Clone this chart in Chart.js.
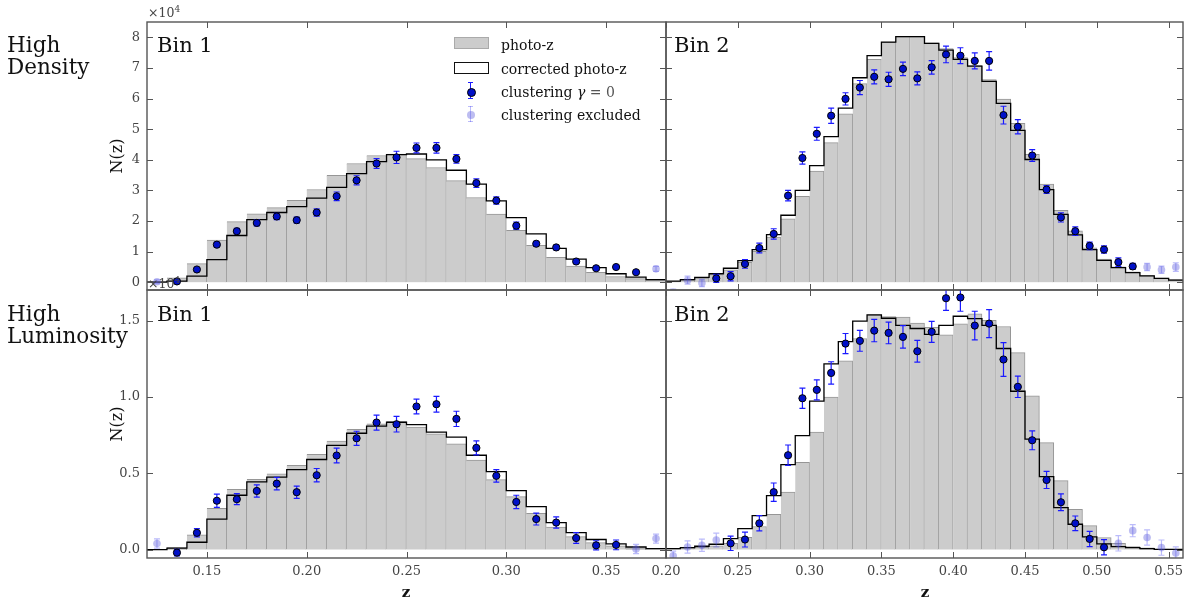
<!DOCTYPE html>
<html>
<head>
    <title>N(z) by redshift bin</title>
    <script src="https://cdn.jsdelivr.net/npm/chart.js"></script>
    <style>
        body { margin: 0; width: 1188px; height: 603px; background: #fff; position: relative; overflow: hidden;
               font-family: "DejaVu Serif", serif; color: #111; }
        canvas.panel { position: absolute; left: 0; top: 0; }
        .txt { position: absolute; white-space: nowrap; line-height: 1; }
        .side { font-size: 21.5px; line-height: 21.5px; left: 7px; }
        .bin { font-size: 21px; }
        .ylab { font-size: 16px; transform: translate(-50%, -50%) rotate(-90deg); }
        .xlab { font-size: 15px; font-weight: bold; transform: translateX(-50%); }
        .mult { font-size: 12.5px; color: #444; }
        .mult sup { font-size: 9px; vertical-align: 5px; }
        .leg { font-size: 14px; left: 501px; }
        .sym { position: absolute; }
    </style>
</head>
<body>
    <canvas class="panel" id="hdBin1" width="1188" height="603"></canvas>
    <canvas class="panel" id="hdBin2" width="1188" height="603"></canvas>
    <canvas class="panel" id="hlBin1" width="1188" height="603"></canvas>
    <canvas class="panel" id="hlBin2" width="1188" height="603"></canvas>

    <div class="txt side" style="top:34px">High<br>Density</div>
    <div class="txt side" style="top:303px">High<br>Luminosity</div>
    <div class="txt bin" style="left:157px; top:35px">Bin 1</div>
    <div class="txt bin" style="left:674px; top:35px">Bin 2</div>
    <div class="txt bin" style="left:157px; top:304px">Bin 1</div>
    <div class="txt bin" style="left:674px; top:304px">Bin 2</div>
    <div class="txt ylab" style="left:117px; top:156px">N(z)</div>
    <div class="txt ylab" style="left:117px; top:424px">N(z)</div>
    <div class="txt xlab" style="left:406px; top:585px">z</div>
    <div class="txt xlab" style="left:925px; top:585px">z</div>
    <div class="txt mult" style="left:148px; top:5px">×10<sup>4</sup></div>
    <div class="txt mult" style="left:148px; top:276px">×10<sup>4</sup></div>

    <!-- legend -->
    <div class="sym" style="left:454px; top:37px; width:33px; height:10px; background:#ccc; border:1px solid #aaa"></div>
    <div class="sym" style="left:454px; top:62px; width:33px; height:10px; background:#fff; border:1px solid #111"></div>
    <div class="sym" style="left:470px; top:82px; width:1px; height:17px; background:#1a1aff"></div>
    <div class="sym" style="left:468px; top:82px; width:5px; height:1px; background:#1a1aff"></div>
    <div class="sym" style="left:468px; top:98px; width:5px; height:1px; background:#1a1aff"></div>
    <div class="sym" style="left:467px; top:88px; width:7px; height:7px; border-radius:50%; background:#0010c8; border:1px solid #000"></div>
    <div class="sym" style="left:470px; top:106px; width:1px; height:16px; background:rgba(60,60,240,0.35)"></div>
    <div class="sym" style="left:468px; top:106px; width:5px; height:1px; background:rgba(60,60,240,0.35)"></div>
    <div class="sym" style="left:468px; top:121px; width:5px; height:1px; background:rgba(60,60,240,0.35)"></div>
    <div class="sym" style="left:467px; top:111px; width:8px; height:8px; border-radius:50%; background:rgba(90,90,220,0.4)"></div>
    <div class="txt leg" style="top:38px">photo-z</div>
    <div class="txt leg" style="top:61.5px">corrected photo-z</div>
    <div class="txt leg" style="top:85px">clustering <i>γ</i> <span style="color:#555">= 0</span></div>
    <div class="txt leg" style="top:108px">clustering excluded</div>

    <script>
        // bin centres
        const zLeft = [0.125, 0.135, 0.145, 0.155, 0.165, 0.175, 0.185, 0.195, 0.205, 0.215, 0.225, 0.235, 0.245,
                       0.255, 0.265, 0.275, 0.285, 0.295, 0.305, 0.315, 0.325, 0.335, 0.345, 0.355, 0.365, 0.375];
        const zRight = [0.205, 0.215, 0.225, 0.235, 0.245, 0.255, 0.265, 0.275, 0.285, 0.295, 0.305, 0.315,
                        0.325, 0.335, 0.345, 0.355, 0.365, 0.375, 0.385, 0.395, 0.405, 0.415, 0.425, 0.435,
                        0.445, 0.455, 0.465, 0.475, 0.485, 0.495, 0.505, 0.515, 0.525, 0.535, 0.545, 0.555];

        const xTicksLeft = [0.15, 0.20, 0.25, 0.30, 0.35];
        const xTicksRight = [0.20, 0.25, 0.30, 0.35, 0.40, 0.45, 0.50, 0.55];
        const yTicksDensity = [0, 1, 2, 3, 4, 5, 6, 7, 8];
        const yTicksLum = [0, 0.5, 1.0, 1.5];

        // High Density, Bin 1 (units of 1e4)
        const hdBin1Photo = [0.03, 0.15, 0.61, 1.38, 1.98, 2.24, 2.44, 2.68, 3.03, 3.49, 3.88, 4.14, 4.19,
                             4.04, 3.75, 3.32, 2.77, 2.23, 1.70, 1.21, 0.82, 0.53, 0.33, 0.19, 0.12, 0.07];
        const hdBin1Corrected = [0.01, 0.04, 0.20, 0.74, 1.53, 2.05, 2.28, 2.47, 2.75, 3.10, 3.55, 3.94, 4.17,
                                 4.19, 4.00, 3.66, 3.21, 2.66, 2.11, 1.58, 1.11, 0.76, 0.48, 0.28, 0.17, 0.09];
        const hdBin1ClusterZ = [0.135, 0.145, 0.155, 0.165, 0.175, 0.185, 0.195, 0.205, 0.215, 0.225, 0.235, 0.245,
                                0.255, 0.265, 0.275, 0.285, 0.295, 0.305, 0.315, 0.325, 0.335, 0.345, 0.355, 0.365];
        const hdBin1Cluster = [0.03, 0.42, 1.23, 1.67, 1.94, 2.15, 2.03, 2.28, 2.81, 3.33, 3.88, 4.08,
                               4.39, 4.39, 4.03, 3.24, 2.67, 1.85, 1.26, 1.14, 0.68, 0.46, 0.50, 0.33];
        const hdBin1ClusterErr = [0.04, 0.06, 0.08, 0.09, 0.10, 0.10, 0.10, 0.12, 0.14, 0.15, 0.16, 0.20,
                                  0.16, 0.17, 0.14, 0.14, 0.12, 0.12, 0.08, 0.07, 0.06, 0.05, 0.05, 0.05];
        const hdBin1ExclZ = [0.125, 0.375];
        const hdBin1Excl = [0.02, 0.44];
        const hdBin1ExclErr = [0.06, 0.08];

        // High Density, Bin 2
        const hdBin2Photo = [0.03, 0.07, 0.14, 0.25, 0.41, 0.65, 1.01, 1.48, 2.07, 2.81, 3.63, 4.56,
                             5.50, 6.49, 7.28, 7.84, 8.02, 8.02, 7.82, 7.63, 7.34, 7.08, 6.62, 5.98,
                             5.19, 4.18, 3.21, 2.35, 1.68, 1.13, 0.76, 0.51, 0.34, 0.22, 0.14, 0.09];
        const hdBin2Corrected = [0.04, 0.09, 0.16, 0.28, 0.46, 0.71, 1.07, 1.56, 2.19, 3.00, 3.81, 4.76,
                                 5.69, 6.68, 7.40, 7.84, 8.02, 8.02, 7.80, 7.58, 7.28, 7.06, 6.56, 5.84,
                                 4.96, 4.01, 3.03, 2.22, 1.55, 1.07, 0.72, 0.48, 0.32, 0.21, 0.13, 0.07];
        const hdBin2ClusterZ = [0.235, 0.245, 0.255, 0.265, 0.275, 0.285, 0.295, 0.305, 0.315, 0.325,
                                0.335, 0.345, 0.355, 0.365, 0.375, 0.385, 0.395, 0.405, 0.415, 0.425,
                                0.435, 0.445, 0.455, 0.465, 0.475, 0.485, 0.495, 0.505, 0.515, 0.525];
        const hdBin2Cluster = [0.13, 0.20, 0.60, 1.12, 1.58, 2.83, 4.06, 4.85, 5.44, 5.99,
                               6.36, 6.71, 6.63, 6.97, 6.66, 7.02, 7.44, 7.40, 7.23, 7.23,
                               5.46, 5.08, 4.14, 3.03, 2.12, 1.67, 1.19, 1.07, 0.66, 0.52];
        const hdBin2ClusterErr = [0.13, 0.15, 0.14, 0.16, 0.17, 0.17, 0.20, 0.21, 0.25, 0.20,
                                  0.23, 0.23, 0.23, 0.22, 0.21, 0.22, 0.27, 0.26, 0.26, 0.30,
                                  0.29, 0.23, 0.19, 0.13, 0.15, 0.14, 0.12, 0.12, 0.14, 0.10];
        const hdBin2ExclZ = [0.205, 0.215, 0.225, 0.535, 0.545, 0.555];
        const hdBin2Excl = [-0.33, 0.07, -0.02, 0.50, 0.41, 0.50];
        const hdBin2ExclErr = [0.11, 0.13, 0.12, 0.12, 0.12, 0.14];

        // High Luminosity, Bin 1
        const hlBin1Photo = [0.0, 0.013, 0.096, 0.27, 0.395, 0.46, 0.496, 0.552, 0.624, 0.71, 0.788, 0.823, 0.838,
                             0.803, 0.758, 0.692, 0.587, 0.458, 0.347, 0.238, 0.148, 0.085, 0.046, 0.024, 0.011, 0.004];
        const hlBin1Corrected = [0.0, 0.01, 0.048, 0.20, 0.356, 0.443, 0.474, 0.524, 0.59, 0.683, 0.762, 0.808, 0.834,
                                 0.819, 0.769, 0.736, 0.618, 0.511, 0.386, 0.282, 0.177, 0.111, 0.066, 0.037, 0.017, 0.007];
        const hlBin1ClusterZ = [0.135, 0.145, 0.155, 0.165, 0.175, 0.185, 0.195, 0.205, 0.215, 0.225, 0.235, 0.245,
                                0.255, 0.265, 0.275, 0.285, 0.295, 0.305, 0.315, 0.325, 0.335, 0.345, 0.355];
        const hlBin1Cluster = [-0.02, 0.11, 0.32, 0.33, 0.384, 0.432, 0.376, 0.487, 0.616, 0.729, 0.832, 0.821,
                               0.937, 0.952, 0.856, 0.666, 0.483, 0.312, 0.20, 0.177, 0.076, 0.028, 0.031];
        const hlBin1ClusterErr = [0.022, 0.027, 0.043, 0.036, 0.04, 0.041, 0.04, 0.044, 0.048, 0.046, 0.049, 0.051,
                                  0.048, 0.052, 0.05, 0.046, 0.041, 0.044, 0.039, 0.037, 0.035, 0.03, 0.032];
        const hlBin1ExclZ = [0.125, 0.365, 0.375];
        const hlBin1Excl = [0.04, 0.004, 0.072];
        const hlBin1ExclErr = [0.03, 0.03, 0.03];

        // High Luminosity, Bin 2
        const hlBin2Photo = [0.004, 0.009, 0.015, 0.024, 0.041, 0.081, 0.151, 0.231, 0.376, 0.572, 0.769, 0.998,
                             1.236, 1.382, 1.537, 1.526, 1.522, 1.483, 1.456, 1.406, 1.478, 1.544, 1.502, 1.461,
                             1.290, 1.007, 0.701, 0.452, 0.264, 0.157, 0.079, 0.041, 0.020, 0.011, 0.004, 0.002];
        const hlBin2Corrected = [0.007, 0.013, 0.022, 0.035, 0.072, 0.138, 0.223, 0.354, 0.557, 0.747, 0.972, 1.216,
                                 1.362, 1.496, 1.537, 1.515, 1.469, 1.448, 1.41, 1.469, 1.528, 1.513, 1.469, 1.317,
                                 1.037, 0.723, 0.478, 0.275, 0.166, 0.083, 0.037, 0.020, 0.013, 0.007, 0.002, 0.002];
        const hlBin2ClusterZ = [0.245, 0.255, 0.265, 0.275, 0.285, 0.295, 0.305, 0.315, 0.325, 0.335,
                                0.345, 0.355, 0.365, 0.375, 0.385, 0.395, 0.405, 0.415, 0.425, 0.435,
                                0.445, 0.455, 0.465, 0.475, 0.485, 0.495, 0.505];
        const hlBin2Cluster = [0.041, 0.066, 0.172, 0.376, 0.618, 0.991, 1.046, 1.157, 1.349, 1.367,
                               1.434, 1.419, 1.393, 1.299, 1.426, 1.646, 1.651, 1.467, 1.480, 1.245,
                               1.066, 0.716, 0.456, 0.310, 0.172, 0.070, 0.015];
        const hlBin2ClusterErr = [0.047, 0.049, 0.05, 0.06, 0.067, 0.066, 0.066, 0.073, 0.066, 0.068,
                                  0.073, 0.071, 0.074, 0.071, 0.069, 0.08, 0.09, 0.094, 0.092, 0.11,
                                  0.07, 0.062, 0.056, 0.055, 0.048, 0.05, 0.05];
        const hlBin2ExclZ = [0.205, 0.215, 0.225, 0.235, 0.515, 0.525, 0.535, 0.545, 0.555];
        const hlBin2Excl = [-0.04, 0.017, 0.028, 0.063, 0.041, 0.124, 0.079, 0.013, -0.022];
        const hlBin2ExclErr = [0.03, 0.04, 0.04, 0.045, 0.05, 0.04, 0.05, 0.05, 0.04];

        const FONT = '"DejaVu Serif", serif';
        const Y_AXIS_W = 40;   // fixed room for y tick labels
        const X_AXIS_H = 28;   // fixed room for x tick labels

        // error bars drawn under each point dataset that carries an `errors` array
        const errorBars = {
            id: 'errorBars',
            beforeDatasetDraw(chart, args) {
                const ds = chart.data.datasets[args.index];
                if (!ds.errors) return;
                const {ctx, chartArea: a, scales: {x, y}} = chart;
                ctx.save();
                ctx.beginPath();
                ctx.rect(a.left, a.top, a.width, a.height);
                ctx.clip();
                ctx.strokeStyle = ds.errColor;
                ctx.lineWidth = 1.2;
                ds.data.forEach((p, i) => {
                    const px = x.getPixelForValue(p.x);
                    const lo = y.getPixelForValue(p.y - ds.errors[i]);
                    const hi = y.getPixelForValue(p.y + ds.errors[i]);
                    ctx.beginPath();
                    ctx.moveTo(px, lo); ctx.lineTo(px, hi);
                    ctx.moveTo(px - 3, lo); ctx.lineTo(px + 3, lo);
                    ctx.moveTo(px - 3, hi); ctx.lineTo(px + 3, hi);
                    ctx.stroke();
                });
                ctx.restore();
            }
        };

        // box frame plus inward ticks on all four sides
        const frame = {
            id: 'frame',
            afterDatasetsDraw(chart) {
                const {ctx, chartArea: a, scales: {x, y}} = chart;
                ctx.save();
                ctx.strokeStyle = '#555';
                ctx.lineWidth = 1;
                ctx.beginPath();
                x.ticks.forEach(t => {
                    const px = Math.round(x.getPixelForValue(t.value)) + 0.5;
                    ctx.moveTo(px, a.bottom); ctx.lineTo(px, a.bottom - 6);
                    ctx.moveTo(px, a.top); ctx.lineTo(px, a.top + 6);
                });
                y.ticks.forEach(t => {
                    const py = Math.round(y.getPixelForValue(t.value)) + 0.5;
                    ctx.moveTo(a.left, py); ctx.lineTo(a.left + 6, py);
                    ctx.moveTo(a.right, py); ctx.lineTo(a.right - 6, py);
                });
                ctx.stroke();
                ctx.lineWidth = 1.4;
                ctx.strokeRect(a.left, a.top, a.width, a.height);
                ctx.restore();
            }
        };

        function fixSize(s, dim, size) {
            s[dim] = size;
            s.paddingTop = 0; s.paddingBottom = 0; s.paddingLeft = 0; s.paddingRight = 0;
        }

        function makePanel(id, p) {
            const line = [{x: p.xRange[0], y: p.corrected[0]}]
                .concat(p.bins.map((z, i) => ({x: z, y: p.corrected[i]})))
                .concat([{x: p.xRange[1], y: p.corrected[p.corrected.length - 1]}]);

            new Chart(document.getElementById(id), {
                type: 'bar',
                data: {
                    datasets: [
                        {
                            type: 'scatter',
                            label: 'clustering γ = 0',
                            data: p.clusterZ.map((z, i) => ({x: z, y: p.cluster[i]})),
                            errors: p.clusterErr,
                            errColor: '#1a1aff',
                            backgroundColor: '#0010c8',
                            borderColor: '#000',
                            borderWidth: 1,
                            pointRadius: 3.6,
                            order: 0
                        },
                        {
                            type: 'scatter',
                            label: 'clustering excluded',
                            data: p.exclZ.map((z, i) => ({x: z, y: p.excl[i]})),
                            errors: p.exclErr,
                            errColor: 'rgba(60,60,240,0.35)',
                            backgroundColor: 'rgba(90,90,220,0.4)',
                            borderColor: 'rgba(0,0,0,0)',
                            borderWidth: 0,
                            pointRadius: 3.8,
                            clip: 0,
                            order: 1
                        },
                        {
                            type: 'line',
                            label: 'corrected photo-z',
                            data: line,
                            stepped: 'middle',
                            borderColor: '#000',
                            borderWidth: 1.3,
                            pointRadius: 0,
                            fill: false,
                            order: 2
                        },
                        {
                            type: 'bar',
                            label: 'photo-z',
                            data: p.bins.map((z, i) => ({x: z, y: p.photo[i]})),
                            backgroundColor: '#cccccc',
                            borderColor: 'rgba(80,80,80,0.6)',
                            borderWidth: {top: 1, right: 1, left: 0, bottom: 0},
                            borderSkipped: false,
                            barPercentage: 1,
                            categoryPercentage: 1,
                            order: 3
                        }
                    ]
                },
                options: {
                    responsive: false,
                    animation: false,
                    events: [],
                    layout: {padding: {
                        left: p.box[0] - Y_AXIS_W,
                        top: p.box[1],
                        right: 1188 - p.box[2],
                        bottom: 603 - p.box[3] - X_AXIS_H
                    }},
                    plugins: {legend: {display: false}, tooltip: {enabled: false}},
                    scales: {
                        x: {
                            type: 'linear',
                            min: p.xRange[0],
                            max: p.xRange[1],
                            offset: false,
                            afterBuildTicks: s => { s.ticks = p.xTicks.map(v => ({value: v})); },
                            afterFit: s => fixSize(s, 'height', X_AXIS_H),
                            grid: {display: false, drawTicks: false, offset: false},
                            border: {display: false},
                            ticks: {
                                display: p.showX,
                                autoSkip: false,
                                maxRotation: 0,
                                padding: 6,
                                color: '#444',
                                font: {family: FONT, size: 13},
                                callback: v => v.toFixed(2)
                            }
                        },
                        y: {
                            type: 'linear',
                            min: p.yRange[0],
                            max: p.yRange[1],
                            afterBuildTicks: s => { s.ticks = p.yTicks.map(v => ({value: v})); },
                            afterFit: s => fixSize(s, 'width', Y_AXIS_W),
                            grid: {display: false, drawTicks: false},
                            border: {display: false},
                            ticks: {
                                display: p.showY,
                                autoSkip: false,
                                padding: 7,
                                color: '#444',
                                font: {family: FONT, size: 13},
                                callback: v => p.yDigits ? v.toFixed(p.yDigits) : String(v)
                            }
                        }
                    }
                },
                plugins: [errorBars, frame]
            });
        }

        makePanel('hdBin1', {
            box: [147, 22, 666, 290], xRange: [0.12, 0.38], yRange: [-0.25, 8.5],
            xTicks: xTicksLeft, yTicks: yTicksDensity, showX: false, showY: true, yDigits: 0,
            bins: zLeft, photo: hdBin1Photo, corrected: hdBin1Corrected,
            clusterZ: hdBin1ClusterZ, cluster: hdBin1Cluster, clusterErr: hdBin1ClusterErr,
            exclZ: hdBin1ExclZ, excl: hdBin1Excl, exclErr: hdBin1ExclErr
        });
        makePanel('hdBin2', {
            box: [666, 22, 1185, 290], xRange: [0.20, 0.56], yRange: [-0.25, 8.5],
            xTicks: xTicksRight, yTicks: yTicksDensity, showX: false, showY: false, yDigits: 0,
            bins: zRight, photo: hdBin2Photo, corrected: hdBin2Corrected,
            clusterZ: hdBin2ClusterZ, cluster: hdBin2Cluster, clusterErr: hdBin2ClusterErr,
            exclZ: hdBin2ExclZ, excl: hdBin2Excl, exclErr: hdBin2ExclErr
        });
        makePanel('hlBin1', {
            box: [147, 290, 666, 558], xRange: [0.12, 0.38], yRange: [-0.055, 1.70],
            xTicks: xTicksLeft, yTicks: yTicksLum, showX: true, showY: true, yDigits: 1,
            bins: zLeft, photo: hlBin1Photo, corrected: hlBin1Corrected,
            clusterZ: hlBin1ClusterZ, cluster: hlBin1Cluster, clusterErr: hlBin1ClusterErr,
            exclZ: hlBin1ExclZ, excl: hlBin1Excl, exclErr: hlBin1ExclErr
        });
        makePanel('hlBin2', {
            box: [666, 290, 1185, 558], xRange: [0.20, 0.56], yRange: [-0.055, 1.70],
            xTicks: xTicksRight, yTicks: yTicksLum, showX: true, showY: false, yDigits: 1,
            bins: zRight, photo: hlBin2Photo, corrected: hlBin2Corrected,
            clusterZ: hlBin2ClusterZ, cluster: hlBin2Cluster, clusterErr: hlBin2ClusterErr,
            exclZ: hlBin2ExclZ, excl: hlBin2Excl, exclErr: hlBin2ExclErr
        });
    </script>
</body>
</html>
